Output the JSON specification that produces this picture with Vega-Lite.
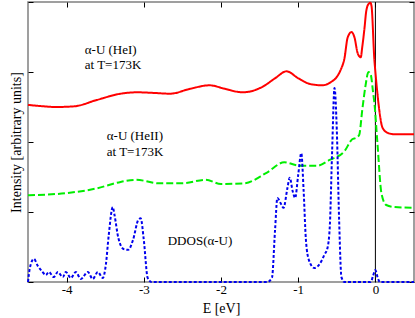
{
  "$schema": "https://vega.github.io/schema/vega-lite/v6.json",
  "width": 386,
  "height": 280,
  "autosize": {"type": "none"},
  "padding": {"left": 28, "top": 2, "right": 1, "bottom": 36},
  "background": "white",
  "config": {
    "view": {"stroke": "#808080", "strokeWidth": 1.5},
    "axis": {
      "labelFont": "Liberation Serif",
      "labelFontSize": 13,
      "labelColor": "black",
      "titleFont": "Liberation Serif",
      "titleFontSize": 14,
      "titleFontWeight": "normal",
      "titleColor": "black",
      "tickColor": "black",
      "tickSize": -5,
      "domain": false,
      "grid": false
    },
    "text": {"font": "Liberation Serif"}
  },
  "datasets": {
    "curves": [
      {"s": "HeI", "E": -4.5, "v": 2.53}, {"s": "HeI", "E": -4.3, "v": 2.51}, {"s": "HeI", "E": -4.15, "v": 2.5}, {"s": "HeI", "E": -3.9, "v": 2.51}, {"s": "HeI", "E": -3.61, "v": 2.6}, {"s": "HeI", "E": -3.3, "v": 2.69}, {"s": "HeI", "E": -3.09, "v": 2.71}, {"s": "HeI", "E": -2.85, "v": 2.7}, {"s": "HeI", "E": -2.66, "v": 2.69}, {"s": "HeI", "E": -2.4, "v": 2.76}, {"s": "HeI", "E": -2.15, "v": 2.81}, {"s": "HeI", "E": -1.95, "v": 2.76}, {"s": "HeI", "E": -1.72, "v": 2.71}, {"s": "HeI", "E": -1.46, "v": 2.79}, {"s": "HeI", "E": -1.3, "v": 2.91}, {"s": "HeI", "E": -1.15, "v": 3.01}, {"s": "HeI", "E": -1.0, "v": 2.91}, {"s": "HeI", "E": -0.85, "v": 2.83}, {"s": "HeI", "E": -0.69, "v": 2.81}, {"s": "HeI", "E": -0.57, "v": 2.86}, {"s": "HeI", "E": -0.5, "v": 2.93}, {"s": "HeI", "E": -0.45, "v": 3.03}, {"s": "HeI", "E": -0.4, "v": 3.2}, {"s": "HeI", "E": -0.36, "v": 3.49}, {"s": "HeI", "E": -0.31, "v": 3.57}, {"s": "HeI", "E": -0.27, "v": 3.49}, {"s": "HeI", "E": -0.23, "v": 3.27}, {"s": "HeI", "E": -0.19, "v": 3.21}, {"s": "HeI", "E": -0.17, "v": 3.36}, {"s": "HeI", "E": -0.14, "v": 3.64}, {"s": "HeI", "E": -0.12, "v": 3.86}, {"s": "HeI", "E": -0.09, "v": 3.97}, {"s": "HeI", "E": -0.065, "v": 3.99}, {"s": "HeI", "E": -0.05, "v": 3.94}, {"s": "HeI", "E": -0.013, "v": 3.17}, {"s": "HeI", "E": 0.0, "v": 3.0}, {"s": "HeI", "E": 0.05, "v": 2.46}, {"s": "HeI", "E": 0.09, "v": 2.21}, {"s": "HeI", "E": 0.16, "v": 2.13}, {"s": "HeI", "E": 0.25, "v": 2.11}, {"s": "HeI", "E": 0.5, "v": 2.11},
      {"s": "HeII", "E": -4.5, "v": 1.24}, {"s": "HeII", "E": -4.0, "v": 1.27}, {"s": "HeII", "E": -3.6, "v": 1.34}, {"s": "HeII", "E": -3.3, "v": 1.43}, {"s": "HeII", "E": -3.1, "v": 1.46}, {"s": "HeII", "E": -2.8, "v": 1.41}, {"s": "HeII", "E": -2.5, "v": 1.41}, {"s": "HeII", "E": -2.2, "v": 1.46}, {"s": "HeII", "E": -2.0, "v": 1.4}, {"s": "HeII", "E": -1.7, "v": 1.41}, {"s": "HeII", "E": -1.41, "v": 1.56}, {"s": "HeII", "E": -1.18, "v": 1.71}, {"s": "HeII", "E": -0.98, "v": 1.66}, {"s": "HeII", "E": -0.76, "v": 1.66}, {"s": "HeII", "E": -0.6, "v": 1.74}, {"s": "HeII", "E": -0.4, "v": 1.87}, {"s": "HeII", "E": -0.3, "v": 2.04}, {"s": "HeII", "E": -0.25, "v": 2.06}, {"s": "HeII", "E": -0.21, "v": 2.1}, {"s": "HeII", "E": -0.17, "v": 2.46}, {"s": "HeII", "E": -0.13, "v": 2.79}, {"s": "HeII", "E": -0.09, "v": 3.0}, {"s": "HeII", "E": -0.06, "v": 2.96}, {"s": "HeII", "E": -0.03, "v": 2.71}, {"s": "HeII", "E": -0.013, "v": 2.56}, {"s": "HeII", "E": 0.026, "v": 1.99}, {"s": "HeII", "E": 0.078, "v": 1.27}, {"s": "HeII", "E": 0.14, "v": 1.1}, {"s": "HeII", "E": 0.25, "v": 1.07}, {"s": "HeII", "E": 0.5, "v": 1.06},
      {"s": "DDOS", "E": -4.5, "v": 0}, {"s": "DDOS", "E": -4.476, "v": 0.2}, {"s": "DDOS", "E": -4.424, "v": 0.33}, {"s": "DDOS", "E": -4.373, "v": 0.23}, {"s": "DDOS", "E": -4.321, "v": 0.157}, {"s": "DDOS", "E": -4.269, "v": 0.1}, {"s": "DDOS", "E": -4.23, "v": 0.143}, {"s": "DDOS", "E": -4.166, "v": 0.071}, {"s": "DDOS", "E": -4.114, "v": 0.143}, {"s": "DDOS", "E": -4.049, "v": 0.071}, {"s": "DDOS", "E": -4.01, "v": 0.143}, {"s": "DDOS", "E": -3.945, "v": 0.057}, {"s": "DDOS", "E": -3.881, "v": 0.143}, {"s": "DDOS", "E": -3.816, "v": 0.043}, {"s": "DDOS", "E": -3.725, "v": 0.143}, {"s": "DDOS", "E": -3.661, "v": 0.043}, {"s": "DDOS", "E": -3.596, "v": 0.143}, {"s": "DDOS", "E": -3.531, "v": 0.057}, {"s": "DDOS", "E": -3.492, "v": 0.243}, {"s": "DDOS", "E": -3.454, "v": 0.671}, {"s": "DDOS", "E": -3.402, "v": 1.071}, {"s": "DDOS", "E": -3.38, "v": 0.96}, {"s": "DDOS", "E": -3.33, "v": 0.63}, {"s": "DDOS", "E": -3.26, "v": 0.47}, {"s": "DDOS", "E": -3.2, "v": 0.46}, {"s": "DDOS", "E": -3.14, "v": 0.6}, {"s": "DDOS", "E": -3.07, "v": 0.89}, {"s": "DDOS", "E": -3.04, "v": 0.91}, {"s": "DDOS", "E": -3.0, "v": 0.6}, {"s": "DDOS", "E": -2.95, "v": 0.06}, {"s": "DDOS", "E": -2.9, "v": 0}, {"s": "DDOS", "E": -1.4, "v": 0}, {"s": "DDOS", "E": -1.34, "v": 0.06}, {"s": "DDOS", "E": -1.3, "v": 0.74}, {"s": "DDOS", "E": -1.27, "v": 1.2}, {"s": "DDOS", "E": -1.22, "v": 1.11}, {"s": "DDOS", "E": -1.19, "v": 1.06}, {"s": "DDOS", "E": -1.14, "v": 1.34}, {"s": "DDOS", "E": -1.11, "v": 1.49}, {"s": "DDOS", "E": -1.07, "v": 1.29}, {"s": "DDOS", "E": -1.04, "v": 1.2}, {"s": "DDOS", "E": -1.0, "v": 1.53}, {"s": "DDOS", "E": -0.96, "v": 1.84}, {"s": "DDOS", "E": -0.93, "v": 1.31}, {"s": "DDOS", "E": -0.9, "v": 0.6}, {"s": "DDOS", "E": -0.86, "v": 0.31}, {"s": "DDOS", "E": -0.79, "v": 0.2}, {"s": "DDOS", "E": -0.72, "v": 0.26}, {"s": "DDOS", "E": -0.66, "v": 0.39}, {"s": "DDOS", "E": -0.62, "v": 0.49}, {"s": "DDOS", "E": -0.59, "v": 0.81}, {"s": "DDOS", "E": -0.56, "v": 1.89}, {"s": "DDOS", "E": -0.53, "v": 2.77}, {"s": "DDOS", "E": -0.5, "v": 2.17}, {"s": "DDOS", "E": -0.47, "v": 0.89}, {"s": "DDOS", "E": -0.44, "v": 0.07}, {"s": "DDOS", "E": -0.4, "v": 0}, {"s": "DDOS", "E": -0.06, "v": 0}, {"s": "DDOS", "E": -0.03, "v": 0.09}, {"s": "DDOS", "E": 0.0, "v": 0.17}, {"s": "DDOS", "E": 0.03, "v": 0.06}, {"s": "DDOS", "E": 0.06, "v": 0}, {"s": "DDOS", "E": 0.5, "v": 0}
    ],
    "labels": [
      {"E": -3.765, "v": 3.31, "t": "α-U (HeI)"},
      {"E": -3.765, "v": 3.1, "t": "at T=173K"},
      {"E": -3.48, "v": 2.09, "t": "α-U (HeII)"},
      {"E": -3.48, "v": 1.86, "t": "at T=173K"},
      {"E": -2.69, "v": 0.59, "t": "DDOS(α-U)"}
    ],
    "zero": [{"E": 0}]
  },
  "layer": [
    {
      "data": {"name": "zero"},
      "mark": {"type": "rule", "color": "black", "strokeWidth": 1},
      "encoding": {
        "x": {"field": "E", "type": "quantitative", "scale": {"domain": [-4.5, 0.5], "nice": false}, "axis": {"orient": "top", "values": [-4, -3, -2, -1, 0], "labels": false, "title": null}}
      }
    },
    {
      "data": {"name": "curves"},
      "mark": {"type": "line", "interpolate": "monotone", "strokeWidth": 2},
      "encoding": {
        "x": {"field": "E", "type": "quantitative", "scale": {"domain": [-4.5, 0.5], "nice": false}, "axis": {"orient": "bottom", "values": [-4, -3, -2, -1, 0], "labelExpr": "datum.value < 0 ? '-' + abs(datum.value) : '' + datum.value", "labelPadding": 6, "title": "E [eV]", "titlePadding": 5}},
        "y": {"field": "v", "type": "quantitative", "scale": {"domain": [0, 4], "nice": false}, "axis": {"orient": "left", "values": [0, 1, 2, 3, 4], "labels": false, "title": "Intensity [arbitrary units]", "titlePadding": 4}},
        "color": {"field": "s", "type": "nominal", "scale": {"domain": ["HeI", "HeII", "DDOS"], "range": ["#ff0000", "#00ee00", "#0000ee"]}, "legend": null},
        "strokeDash": {"field": "s", "type": "nominal", "scale": {"domain": ["HeI", "HeII", "DDOS"], "range": [[1, 0], [7, 3], [3, 2]]}, "legend": null}
      }
    },
    {
      "data": {"name": "labels"},
      "mark": {"type": "text", "align": "left", "baseline": "middle", "font": "Liberation Serif", "fontSize": 13, "color": "black"},
      "encoding": {
        "x": {"field": "E", "type": "quantitative", "axis": null},
        "y": {"field": "v", "type": "quantitative", "axis": {"orient": "right", "values": [0, 1, 2, 3, 4], "labels": false, "title": null}},
        "text": {"field": "t"}
      }
    }
  ],
  "resolve": {"axis": {"x": "independent", "y": "independent"}}
}
